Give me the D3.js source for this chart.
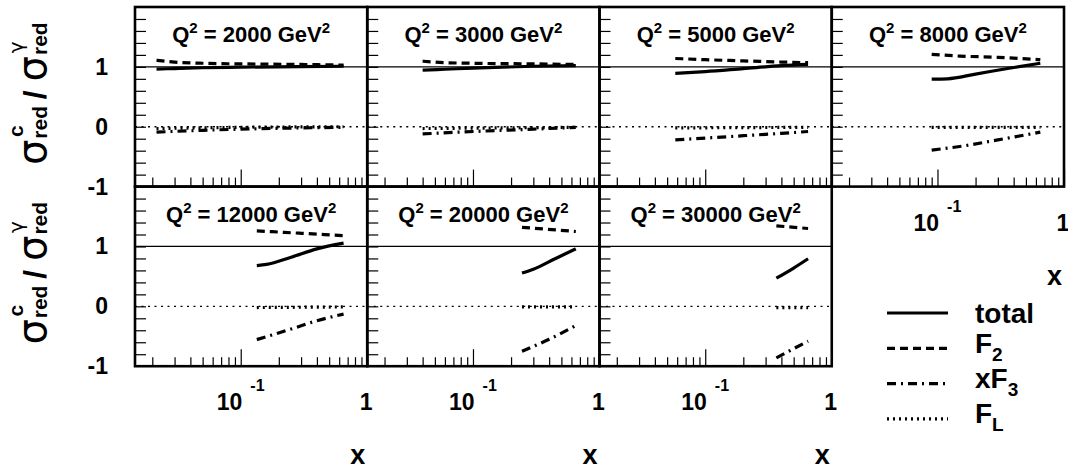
<!DOCTYPE html>
<html>
<head>
<script src="https://d3js.org/d3.v7.min.js"></script>
<style>
    body { margin: 0; background: #fff; }
    text { font-family: "Liberation Sans", Arial, sans-serif; font-weight: bold; fill: #000; }
    .greek { font-family: "DejaVu Sans", sans-serif; font-weight: normal; }
    .tick line { stroke: #000; stroke-width: 1.2px; }
</style>
</head>
<body>
<script>
    // Q^2 of each panel, in reading order
    var q2Values = [2000, 3000, 5000, 8000, 12000, 20000, 30000];

    // curves, [x, ratio] per point, one list per panel
    var totalPts = [
        [[0.0216, 0.962], [0.03, 0.972], [0.05, 0.985], [0.1, 0.995], [0.3, 1.005], [0.65, 1.01]],
        [[0.040, 0.945], [0.06, 0.96], [0.1, 0.98], [0.3, 1.01], [0.65, 1.02]],
        [[0.058, 0.89], [0.1, 0.92], [0.2, 0.97], [0.4, 1.02], [0.65, 1.04]],
        [[0.09, 0.795], [0.12, 0.80], [0.2, 0.88], [0.4, 0.99], [0.65, 1.06]],
        [[0.134, 0.68], [0.16, 0.70], [0.25, 0.82], [0.4, 0.96], [0.65, 1.055]],
        [[0.244, 0.556], [0.3, 0.62], [0.45, 0.80], [0.65, 0.96]],
        [[0.365, 0.47], [0.5, 0.64], [0.65, 0.795]]
    ];
    var f2Pts = [
        [[0.0216, 1.11], [0.03, 1.08], [0.05, 1.06], [0.1, 1.05], [0.3, 1.04], [0.65, 1.03]],
        [[0.040, 1.095], [0.06, 1.07], [0.1, 1.06], [0.3, 1.05], [0.65, 1.04]],
        [[0.058, 1.14], [0.1, 1.12], [0.2, 1.10], [0.4, 1.08], [0.65, 1.07]],
        [[0.09, 1.21], [0.15, 1.18], [0.3, 1.16], [0.65, 1.12]],
        [[0.134, 1.26], [0.3, 1.22], [0.65, 1.18]],
        [[0.244, 1.32], [0.65, 1.25]],
        [[0.365, 1.345], [0.65, 1.30]]
    ];
    var xf3Pts = [
        [[0.0216, -0.09], [0.05, -0.06], [0.1, -0.04], [0.3, -0.02], [0.65, -0.01]],
        [[0.040, -0.12], [0.1, -0.08], [0.3, -0.04], [0.65, -0.01]],
        [[0.058, -0.22], [0.1, -0.19], [0.2, -0.15], [0.4, -0.11], [0.65, -0.08]],
        [[0.09, -0.39], [0.15, -0.33], [0.3, -0.22], [0.65, -0.09]],
        [[0.134, -0.555], [0.25, -0.38], [0.4, -0.24], [0.65, -0.13]],
        [[0.244, -0.75], [0.4, -0.55], [0.65, -0.32]],
        [[0.365, -0.86], [0.65, -0.58]]
    ];
    var flPts = [
        [[0.0216, -0.03], [0.1, -0.01], [0.65, 0.0]],
        [[0.040, -0.03], [0.65, -0.01]],
        [[0.058, -0.02], [0.65, -0.01]],
        [[0.09, -0.01], [0.65, -0.01]],
        [[0.134, -0.02], [0.65, -0.01]],
        [[0.244, -0.01], [0.65, -0.01]],
        [[0.365, -0.02], [0.65, -0.02]]
    ];

    var yTickValues = [1, 0, -1];
    var yTickLabels = ['1', '0', '-1'];
    var xMinorTicks = [0.02, 0.03, 0.04, 0.05, 0.06, 0.07, 0.08, 0.09, 0.2, 0.3, 0.4, 0.5, 0.6, 0.7, 0.8, 0.9];
    var xMajorTicks = [0.1, 1];
    var legendLabels = [['total', ''], ['F', '2'], ['xF', '3'], ['F', 'L']];
    var legendDash = ['none', '8,5', '9,5,2,5', '2,4'];

    var w = 1068, h = 472;
    var left0 = 135, right0 = 1064, top0 = 7;
    var rowH = 179.6;
    var panelW = (right0 - left0) / 4;

    var xScale = d3.scaleLog().domain([0.0146, 1]).range([0, panelW]);
    var yScale = d3.scaleLinear().domain([-1, 2]).range([rowH, 0]);

    var lineFunc = d3.line()
        .x(function(d){ return xScale(d[0]) })
        .y(function(d){ return yScale(d[1]) })
        .curve(d3.curveMonotoneX);

    var svg = d3.select('body').append('svg')
        .attr('width', w)
        .attr('height', h);

    function drawPanel(i){
        var row = i < 4 ? 0 : 1;
        var col = i < 4 ? i : i - 4;
        var g = svg.append('g')
            .attr('transform', 'translate(' + (left0 + col * panelW) + ',' + (top0 + row * rowH) + ')');

        // ticks
        g.append('g').attr('transform', 'translate(0,' + rowH + ')')
            .call(d3.axisTop(xScale).tickValues(xMinorTicks).tickSize(9).tickFormat(''))
            .call(function(a){ a.select('.domain').remove() });
        g.append('g').attr('transform', 'translate(0,' + rowH + ')')
            .call(d3.axisTop(xScale).tickValues(xMajorTicks).tickSize(17).tickFormat(''))
            .call(function(a){ a.select('.domain').remove() });
        g.append('g')
            .call(d3.axisRight(yScale).tickValues(d3.range(-0.8, 1.9, 0.2)).tickSize(11).tickFormat(''))
            .call(function(a){ a.select('.domain').remove() });

        // reference lines
        g.append('line')
            .attr('x1', 0).attr('x2', panelW)
            .attr('y1', yScale(1)).attr('y2', yScale(1))
            .attr('stroke', '#000').attr('stroke-width', 1.3);
        g.append('line')
            .attr('x1', 0).attr('x2', panelW)
            .attr('y1', yScale(0)).attr('y2', yScale(0))
            .attr('stroke', '#000').attr('stroke-width', 1.3)
            .attr('stroke-dasharray', '2,4.5');

        var series = [totalPts[i], f2Pts[i], xf3Pts[i], flPts[i]];
        series.forEach(function(s, k){
            g.append('path')
                .attr('d', lineFunc(s))
                .attr('fill', 'none')
                .attr('stroke', '#000')
                .attr('stroke-width', 3.2)
                .attr('stroke-dasharray', legendDash[k]);
        });

        g.append('rect')
            .attr('width', panelW).attr('height', rowH)
            .attr('fill', 'none').attr('stroke', '#000').attr('stroke-width', 2.6);

        // panel title
        var t = g.append('text')
            .attr('x', panelW / 2).attr('y', 35)
            .attr('text-anchor', 'middle')
            .style('font-size', '22px');
        t.append('tspan').text('Q');
        t.append('tspan').attr('dy', -9).style('font-size', '15px').text('2');
        t.append('tspan').attr('dy', 9).text(' = ' + q2Values[i] + ' GeV');
        t.append('tspan').attr('dy', -9).style('font-size', '15px').text('2');

        // y labels on the first column
        if (col == 0) {
            yTickValues.forEach(function(v, k){
                g.append('text')
                    .attr('x', -27).attr('y', yScale(v) + 8)
                    .attr('text-anchor', 'end')
                    .style('font-size', '23px')
                    .text(yTickLabels[k]);
            });
        }

        // x labels below the last panel of each column
        if (i >= 3) {
            var xl = g.append('text')
                .attr('x', xScale(0.1) - 24).attr('y', rowH + 44)
                .style('font-size', '23px');
            xl.append('tspan').text('10');
            xl.append('tspan').attr('dx', 8).attr('dy', -19).style('font-size', '16px').text('-1');
            g.append('text')
                .attr('x', xScale(1) - 1).attr('y', rowH + 44)
                .attr('text-anchor', 'middle')
                .style('font-size', '23px')
                .text('1');
            g.append('text')
                .attr('x', panelW - 2).attr('y', rowH + 98)
                .attr('text-anchor', 'end')
                .style('font-size', '27px')
                .text('x');
        }
    }

    q2Values.forEach(function(q, i){ drawPanel(i) });

    // y axis titles, sigma_red^c / sigma_red^gamma
    function yTitle(rowTop){
        var t = svg.append('text')
            .attr('transform', 'translate(46,' + (rowTop + 158) + ') rotate(-90)');
        t.append('tspan').attr('class', 'greek').style('font-size', '40px').text('σ');
        t.append('tspan').attr('dx', 1).attr('dy', 1).style('font-size', '21px').text('red');
        t.append('tspan').attr('dx', -31).attr('dy', -24).style('font-size', '21px').text('c');
        t.append('tspan').attr('dx', 26).attr('dy', 23).style('font-size', '32px').text('/');
        t.append('tspan').attr('dx', 9).attr('class', 'greek').style('font-size', '40px').text('σ');
        t.append('tspan').attr('dx', 1).attr('dy', 1).style('font-size', '21px').text('red');
        t.append('tspan').attr('dx', -31).attr('dy', -24).attr('class', 'greek').style('font-size', '20px').text('γ');
    }
    yTitle(top0);
    yTitle(top0 + rowH);

    // legend
    var legend = svg.append('g').attr('transform', 'translate(887,313)');
    legendLabels.forEach(function(lab, k){
        var y = k * 35.3;
        legend.append('line')
            .attr('x1', 0).attr('x2', 61)
            .attr('y1', y).attr('y2', y)
            .attr('stroke', '#000').attr('stroke-width', 3.2)
            .attr('stroke-dasharray', legendDash[k]);
        var t = legend.append('text')
            .attr('x', 88).attr('y', y + (lab[1] ? 4.5 : 10))
            .style('font-size', '28px');
        t.append('tspan').text(lab[0]);
        if (lab[1]) t.append('tspan').attr('dy', 8).style('font-size', '19px').text(lab[1]);
    });
</script>
</body>
</html>
